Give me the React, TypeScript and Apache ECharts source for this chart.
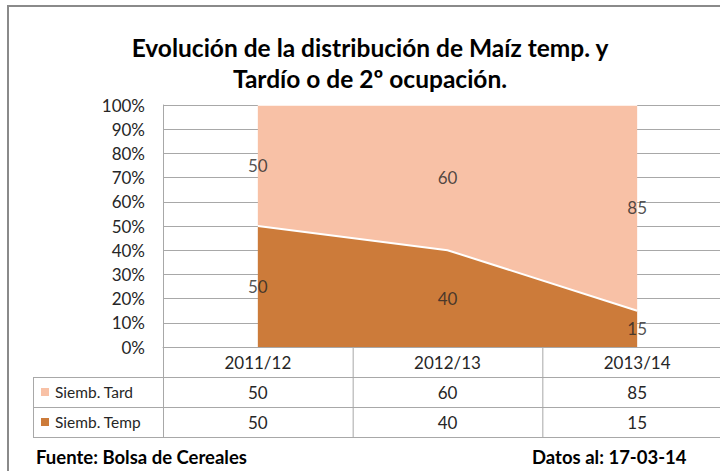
import React, { useEffect, useRef } from "react";
import * as echarts from "echarts";

const title = "Evolución de la distribución de Maíz temp. y\nTardío o de 2º ocupación.";
const categories = ["2011/12", "2012/13", "2013/14"];
const seriesNames = ["Siemb. Tard", "Siemb. Temp"];
const tardValues = [50, 60, 85];
const tempValues = [50, 40, 15];
const footerLeft = "Fuente: Bolsa de Cereales";
const footerRight = "Datos al: 17-03-14";

const LIGHT = "#F8C1A6";
const DARK = "#CC7B3A";
const GRIDC = "#A8A8A8";
const TEXTC = "#262626";
const FONT = "Lato, 'Open Sans', sans-serif";

export default function App() {
  const ref = useRef<HTMLDivElement>(null);
  useEffect(() => {
    if (!ref.current) return;
    const chart = echarts.init(ref.current, null, { renderer: "svg" });
    const gLeft = 163;
    const gTop = 105;
    const gWidth = 569;
    const gHeight = 242;
    const band = gWidth / categories.length;
    const axisY = gTop + gHeight;
    const rowH = 30;
    const tableLeft = 33;
    const tableRight = gLeft + gWidth;

    const lines: any[] = [];
    const hline = (x1: number, x2: number, y: number) =>
      lines.push({ type: "line", shape: { x1, y1: y + 0.5, x2, y2: y + 0.5 }, style: { stroke: GRIDC, lineWidth: 1 }, silent: true });
    const vline = (x: number, y1: number, y2: number) =>
      lines.push({ type: "line", shape: { x1: x + 0.5, y1, x2: x + 0.5, y2 }, style: { stroke: GRIDC, lineWidth: 1 }, silent: true });

    hline(tableLeft, tableRight, axisY + rowH);
    hline(tableLeft, tableRight, axisY + rowH * 2);
    hline(tableLeft, tableRight, axisY + rowH * 3);
    vline(tableLeft, axisY + rowH, axisY + rowH * 3);
    for (let i = 0; i <= categories.length; i++) {
      vline(gLeft + band * i, axisY, axisY + rowH * 3);
    }

    const rows = [tardValues, tempValues];
    const colors = [LIGHT, DARK];
    const texts: any[] = [];
    rows.forEach((vals, r) => {
      const cy = axisY + rowH * (r + 1) + rowH / 2;
      texts.push({
        type: "rect",
        shape: { x: 41, y: cy - 4, width: 8, height: 8 },
        style: { fill: colors[r] },
      });
      texts.push({
        type: "text",
        x: 55,
        y: cy,
        style: { text: seriesNames[r], font: `15.5px ${FONT}`, fill: TEXTC, textAlign: "left", textVerticalAlign: "middle" },
      });
      vals.forEach((v, i) => {
        texts.push({
          type: "text",
          x: gLeft + band * (i + 0.5),
          y: cy,
          style: { text: String(v), font: `17px ${FONT}`, fill: TEXTC, textAlign: "center", textVerticalAlign: "middle" },
        });
      });
    });

    const labelData = (vals: number[], base: number[]) =>
      vals.map((v, i) => [categories[i], base[i] + v / 2, v]);

    chart.setOption({
      animation: false,
      backgroundColor: "#fff",
      textStyle: { fontFamily: FONT },
      title: {
        text: title,
        left: 365,
        textAlign: "center",
        top: 27,
        textStyle: { fontSize: 24.5, fontWeight: "bold", color: "#000", lineHeight: 31, fontFamily: FONT },
      },
      grid: { left: gLeft, top: gTop, width: gWidth, height: gHeight },
      xAxis: {
        type: "category",
        data: categories,
        boundaryGap: true,
        axisLine: { show: true, lineStyle: { color: GRIDC, width: 1 } },
        axisTick: { show: false },
        axisLabel: { margin: 7, fontSize: 17, color: TEXTC, fontFamily: FONT },
        splitLine: { show: false },
      },
      yAxis: {
        type: "value",
        min: 0,
        max: 100,
        interval: 10,
        axisLine: { show: true, lineStyle: { color: GRIDC, width: 1 } },
        axisTick: { show: false },
        axisLabel: { formatter: "{value}%", margin: 18, fontSize: 17, color: TEXTC, fontFamily: FONT },
        splitLine: { show: true, lineStyle: { color: GRIDC, width: 1 } },
      },
      series: [
        {
          name: seriesNames[1],
          type: "line",
          stack: "all",
          data: tempValues,
          symbol: "none",
          lineStyle: { color: "#fff", width: 2 },
          areaStyle: { color: DARK, opacity: 1 },
          z: 2,
        },
        {
          name: seriesNames[0],
          type: "line",
          stack: "all",
          data: tardValues,
          symbol: "none",
          lineStyle: { color: "#fff", width: 1.5 },
          areaStyle: { color: LIGHT, opacity: 1 },
          z: 1,
        },
        {
          type: "scatter",
          data: labelData(tempValues, [0, 0, 0]),
          symbolSize: 0,
          z: 5,
          label: { show: true, position: "inside", formatter: (p: any) => String(p.data[2]), fontSize: 17, color: TEXTC, fontFamily: FONT },
        },
        {
          type: "scatter",
          data: labelData(tardValues, tempValues),
          symbolSize: 0,
          z: 5,
          label: { show: true, position: "inside", formatter: (p: any) => String(p.data[2]), fontSize: 17, color: TEXTC, fontFamily: FONT },
        },
      ],
      graphic: [
        {
          type: "rect",
          shape: { x: 8, y: 6, width: 800, height: 600 },
          style: { fill: "none", stroke: "#8A8A8A", lineWidth: 2 },
          silent: true,
          z: 100,
        },
        ...lines,
        ...texts,
        {
          type: "text",
          x: 36,
          y: 457,
          style: { text: footerLeft, font: `bold 18.5px ${FONT}`, fill: "#000", textAlign: "left", textVerticalAlign: "middle" },
        },
        {
          type: "text",
          x: 532,
          y: 457,
          style: { text: footerRight, font: `bold 18.5px ${FONT}`, fill: "#000", textAlign: "left", textVerticalAlign: "middle" },
        },
      ],
    });
    return () => chart.dispose();
  }, []);
  return (
    <div style={{ position: "fixed", left: 0, top: 0, width: 720, height: 471, overflow: "hidden", background: "#fff" }}>
      <div ref={ref} style={{ width: 800, height: 471 }} />
    </div>
  );
}
